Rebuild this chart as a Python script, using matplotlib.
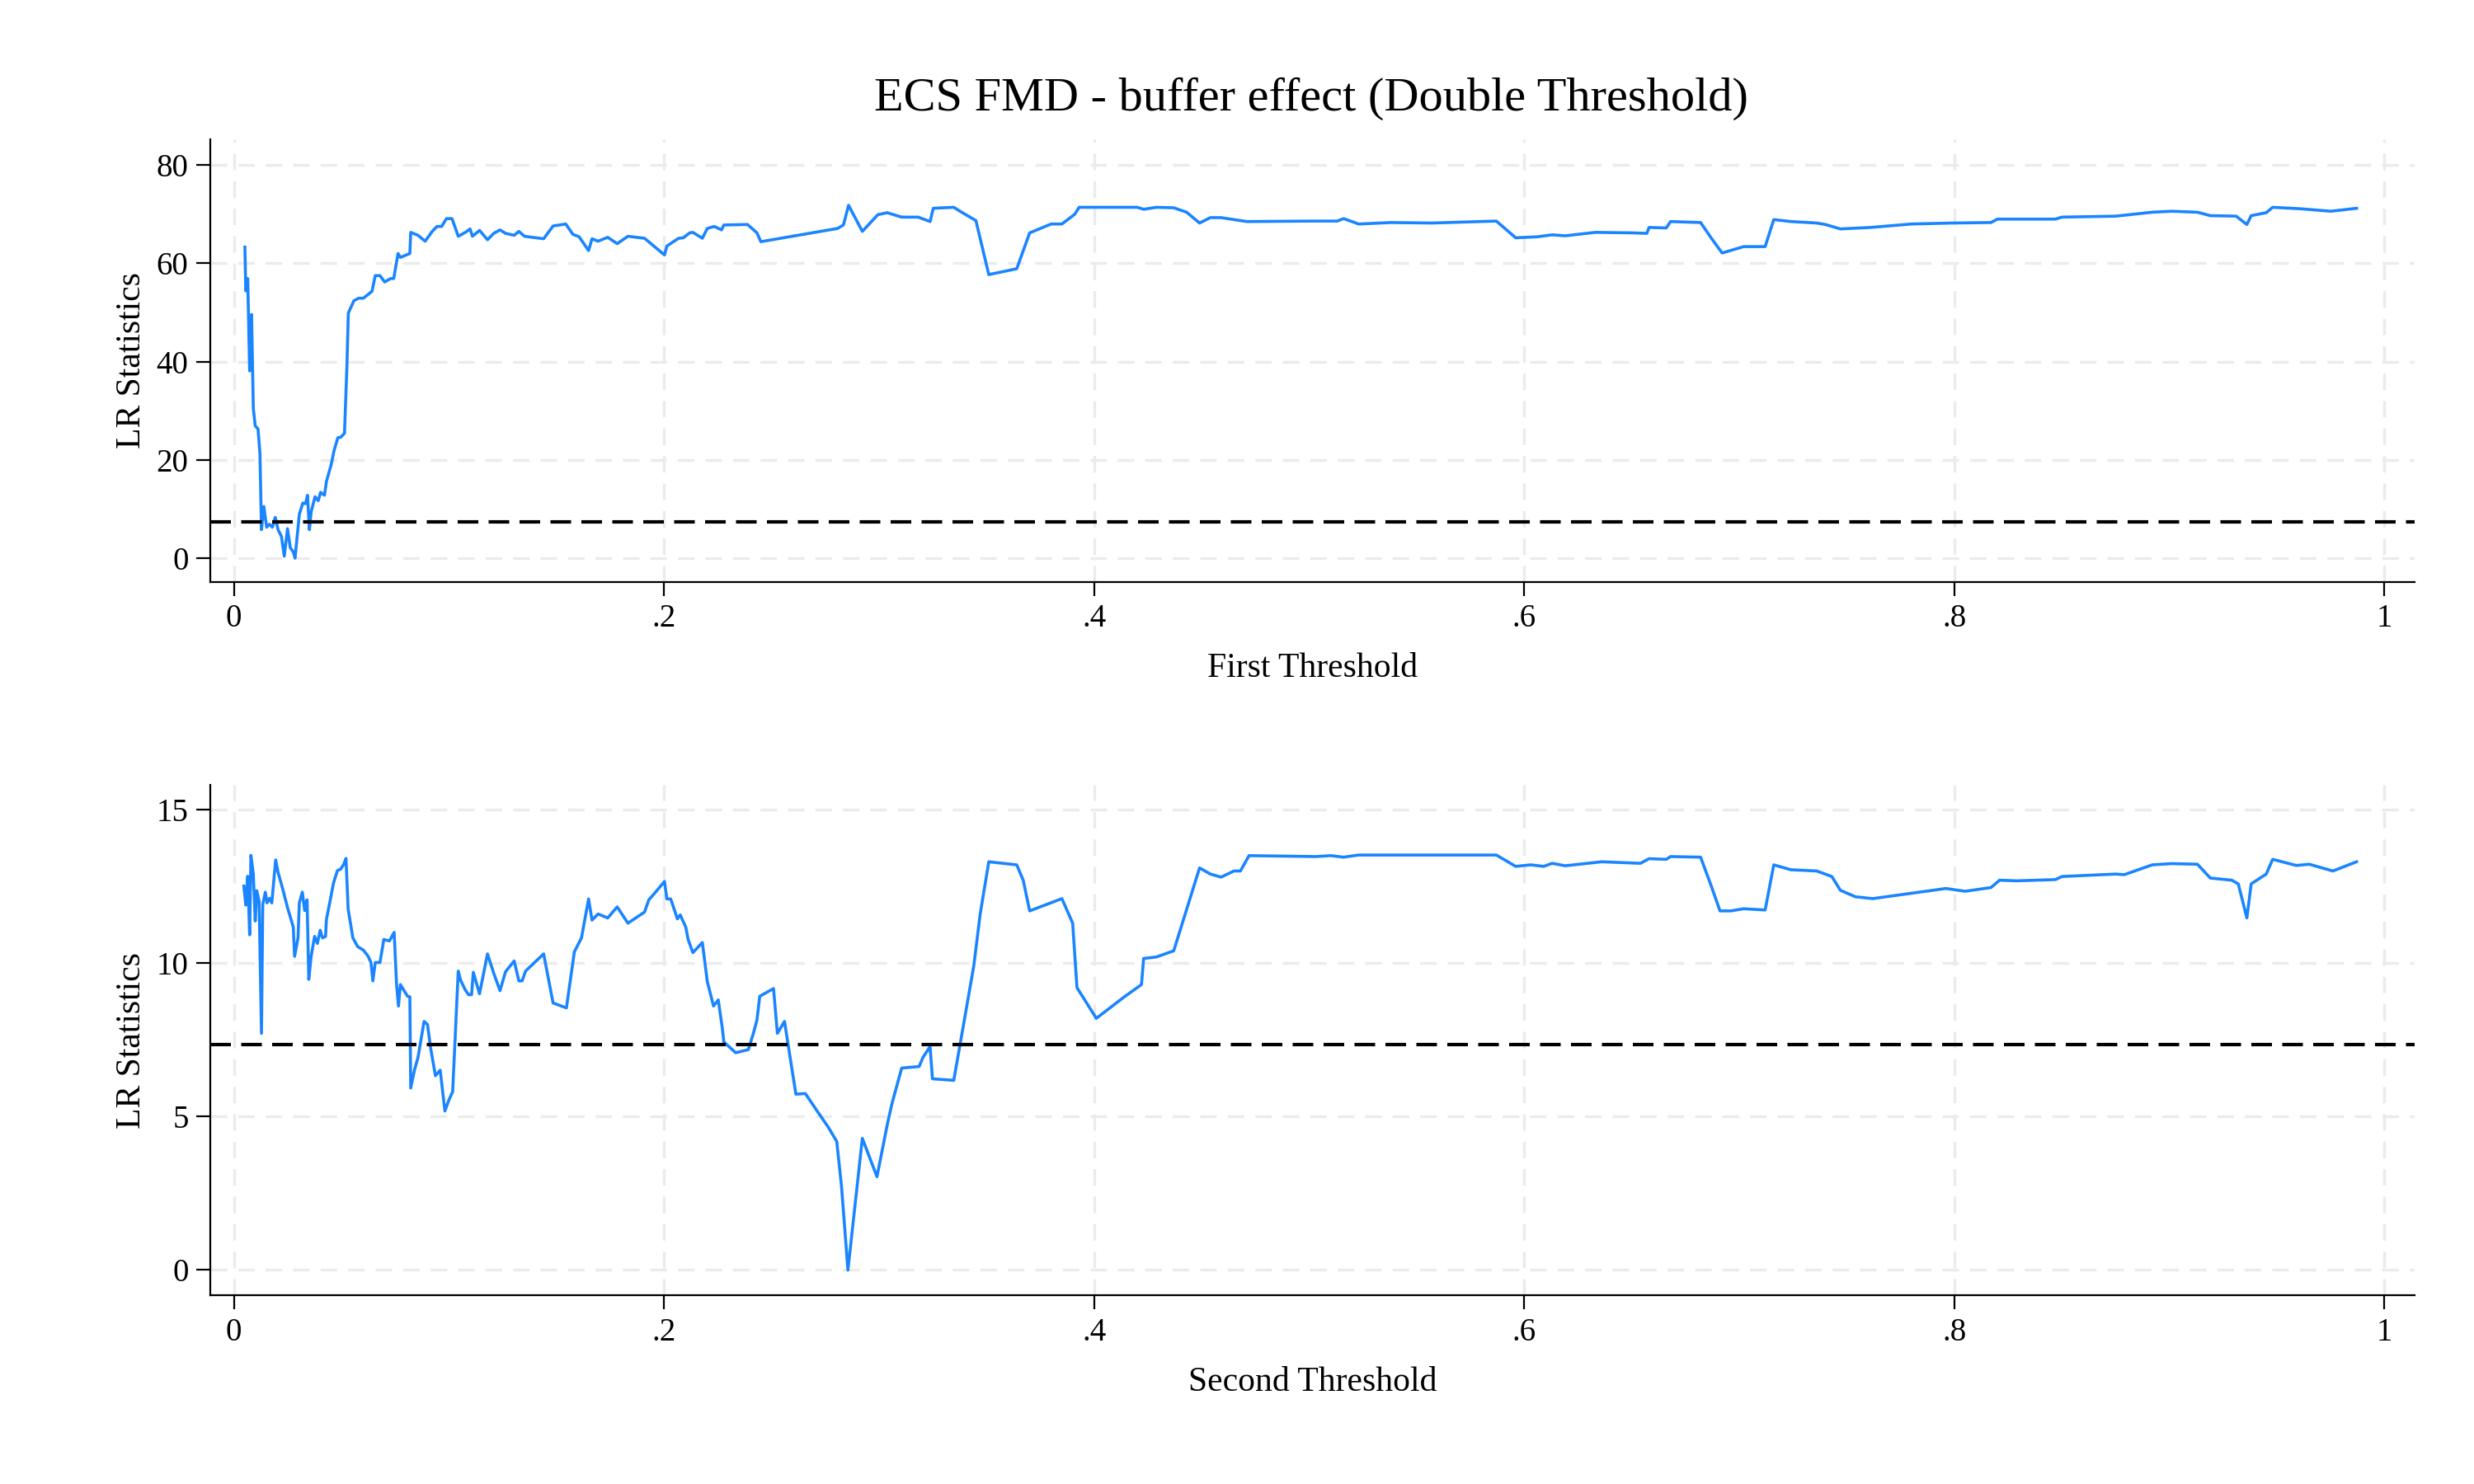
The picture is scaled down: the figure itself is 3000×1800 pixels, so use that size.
import numpy as np
import matplotlib.pyplot as plt

plt.rcParams['font.family'] = ['Liberation Serif', 'DejaVu Serif']

# first threshold LR statistics
x1 = [.0051, .0055, .0064, .0073, .0082, .009, .0099, .0112, .0121, .0128, .0139, .0152, .0165,
      .0179, .0192, .0205, .0221, .0234, .0249, .0262, .0276, .0284, .0304, .032, .0333, .0342,
      .0351, .0359, .0377, .0392, .0403, .0421, .043, .0452, .0465, .0483, .0496, .0514, .0525,
      .0532, .0558, .058, .0602, .0642, .0657, .0679, .0701, .0728, .0743, .0763, .0774, .0818,
      .0822, .0856, .0889, .0922, .0944, .0966, .0988, .1014, .1043, .1076, .1098, .1109, .1142,
      .1179, .1208, .1237, .1263, .1303, .1325, .1351, .144, .1484, .1543, .1576, .1605, .1649,
      .1665, .1693, .1738, .1782, .1832, .1909, .2002, .2013, .204, .2068, .209, .2119, .2134,
      .2178, .2201, .2234, .2267, .2278, .2388, .2432, .245, .2807, .2834, .2858, .2922, .2994,
      .3038, .3105, .3182, .3237, .3252, .3347, .3376, .345, .351, .364, .370, .380, .385, .391,
      .393, .420, .423, .429, .437, .443, .449, .454, .459, .471, .501, .513, .516, .523, .538,
      .557, .587, .596, .606, .613, .619, .633, .650, .657, .658, .666, .668, .682, .687, .692,
      .702, .712, .716, .724, .736, .740, .747, .761, .780, .799, .817, .820, .847, .850, .875,
      .892, .901, .913, .919, .931, .936, .938, .945, .948, .961, .975, .987]
lr1 = [63.3, 54.4, 56.9, 38.1, 49.6, 30.5, 26.9, 26.3, 21.2, 5.8, 10.5, 6.3, 6.9, 6.3, 8.3, 5.8,
       4.4, 0.4, 6.0, 2.1, 1.3, 0, 8.9, 11.2, 11.1, 12.8, 5.8, 9.4, 12.5, 11.7, 13.4, 12.8, 15.6,
       19, 21.8, 24.5, 24.6, 25.4, 38.7, 49.9, 52.4, 52.9, 52.9, 54.3, 57.5, 57.5, 56.2, 56.9,
       56.9, 62, 61.2, 62, 66.3, 65.7, 64.5, 66.5, 67.5, 67.5, 69.1, 69.1, 65.5, 66.3, 67, 65.5,
       66.7, 64.8, 66.1, 66.8, 66.1, 65.7, 66.5, 65.5, 65, 67.6, 68, 65.9, 65.4, 62.6, 65, 64.5,
       65.3, 64, 65.5, 65.1, 61.7, 63.5, 64.3, 65.1, 65.2, 66.2, 66.3, 65.1, 67.1, 67.5, 66.8,
       67.8, 67.9, 66.2, 64.4, 67.1, 67.8, 71.8, 66.5, 69.9, 70.3, 69.4, 69.4, 68.5, 71.2, 71.4,
       70.6, 68.7, 57.7, 58.9, 66.2, 68, 68, 70, 71.4, 71.4, 71, 71.4, 71.3, 70.4, 68.2, 69.3,
       69.3, 68.5, 68.6, 68.6, 69.1, 68, 68.3, 68.2, 68.6, 65.2, 65.4, 65.8, 65.6, 66.3, 66.2,
       66.1, 67.3, 67.2, 68.5, 68.3, 65.1, 62.1, 63.4, 63.4, 68.9, 68.5, 68.2, 67.9, 67, 67.3,
       68, 68.2, 68.3, 69, 69, 69.4, 69.6, 70.4, 70.6, 70.4, 69.7, 69.6, 67.9, 69.7, 70.3, 71.4,
       71.1, 70.6, 71.2]

# second threshold LR statistics
x2 = [.0046, .0055, .0064, .0073, .0079, .009, .0099, .0106, .0117, .0128, .0134, .0146, .0154,
      .0165, .0176, .0194, .0205, .0227, .0249, .0276, .0282, .0298, .0304, .0318, .0329, .034,
      .0348, .0359, .0375, .0388, .0401, .0412, .0426, .043, .0448, .0463, .0481, .0496, .051,
      .0521, .0531, .0553, .0575, .0602, .0624, .0637, .0646, .0657, .0679, .0697, .0723, .0745,
      .0756, .0765, .0774, .0794, .0807, .0818, .0822, .084, .0856, .0884, .09, .0915, .0937,
      .0959, .0981, .0999, .1017, .1043, .1054, .1076, .1091, .1105, .1113, .1142, .1179, .1208,
      .1237, .1263, .1303, .1325, .134, .1356, .144, .1484, .1546, .1583, .1616, .1649, .1665,
      .1693, .1738, .1782, .1832, .1909, .1929, .1958, .2002, .2013, .2031, .2062, .2075, .2101,
      .2112, .2134, .2178, .2201, .223, .2252, .2271, .2278, .2333, .2392, .2417, .2432, .2445,
      .2509, .2527, .256, .2586, .2613, .2657, .2707, .2763, .2803, .2825, .2855, .2922, .299,
      .3038, .306, .3105, .3186, .3204, .3237, .3248, .3347, .3376, .344, .347, .351, .364, .367,
      .370, .385, .390, .392, .401, .414, .422, .423, .429, .437, .449, .454, .459, .465, .468,
      .472, .503, .510, .516, .523, .587, .596, .603, .609, .613, .619, .636, .654, .658, .666,
      .668, .682, .687, .691, .696, .702, .712, .716, .724, .736, .743, .747, .754, .762, .796,
      .805, .817, .821, .829, .847, .850, .875, .879, .892, .901, .913, .919, .929, .932, .936,
      .938, .945, .948, .959, .965, .976, .987]
lr2 = [12.51, 11.89, 12.83, 10.92, 13.51, 12.91, 11.37, 12.36, 12.01, 7.71, 11.91, 12.31, 11.96,
       12.11, 11.96, 13.36, 12.96, 12.41, 11.81, 11.17, 10.22, 10.82, 11.96, 12.31, 11.71, 12.06,
       9.47, 10.22, 10.87, 10.64, 11.07, 10.82, 10.87, 11.42, 12.06, 12.61, 13.01, 13.06, 13.21,
       13.41, 11.76, 10.82, 10.54, 10.42, 10.22, 10.02, 9.42, 10.02, 10.02, 10.77, 10.72, 11,
       9.32, 8.6, 9.3, 9.07, 8.92, 8.9, 5.93, 6.53, 6.93, 8.1, 8.0, 7.21, 6.33, 6.51, 5.18, 5.53,
       5.81, 9.74, 9.44, 9.12, 8.97, 8.97, 9.7, 9, 10.3, 9.67, 9.1, 9.72, 10.07, 9.42, 9.42, 9.74,
       10.3, 8.7, 8.54, 10.37, 10.82, 12.09, 11.4, 11.6, 11.47, 11.83, 11.3, 11.66, 12.06, 12.29,
       12.66, 12.09, 12.09, 11.44, 11.57, 11.17, 10.77, 10.34, 10.67, 9.4, 8.6, 8.8, 7.88, 7.43,
       7.08, 7.18, 7.75, 8.15, 8.92, 9.17, 7.71, 8.1, 6.93, 5.73, 5.75, 5.23, 4.66, 4.19, 2.74, 0,
       4.29, 3.04, 4.74, 5.43, 6.58, 6.63, 6.93, 7.28, 6.23, 6.18, 7.33, 9.9, 11.6, 13.3, 13.2,
       12.7, 11.7, 12.1, 11.3, 9.2, 8.2, 8.9, 9.3, 10.15, 10.2, 10.4, 13.1, 12.9, 12.8, 13.0, 13.0,
       13.5, 13.47, 13.5, 13.45, 13.52, 13.52, 13.15, 13.2, 13.15, 13.25, 13.17, 13.3, 13.25,
       13.4, 13.38, 13.47, 13.45, 12.5, 11.7, 11.7, 11.77, 11.73, 13.2, 13.04, 13.0, 12.82, 12.37,
       12.16, 12.1, 12.43, 12.34, 12.46, 12.7, 12.68, 12.72, 12.82, 12.9, 12.88, 13.2, 13.24,
       13.22, 12.77, 12.7, 12.58, 11.47, 12.58, 12.9, 13.38, 13.18, 13.22, 13.0, 13.3]

crit = 7.35
line_color = '#1a85ff'

fig = plt.figure(figsize=(15, 9), dpi=200)
ax1 = fig.add_axes([0.085, 0.608, 0.891, 0.298])
ax2 = fig.add_axes([0.085, 0.127, 0.891, 0.344])

panels = [(ax1, x1, lr1, [0, 20, 40, 60, 80], (-4.8, 85.2), 'First Threshold'),
          (ax2, x2, lr2, [0, 5, 10, 15], (-0.83, 15.8), 'Second Threshold')]

for ax, x, y, yt, ylim, xlabel in panels:
    ax.plot(x, y, color=line_color, lw=1.3)
    ax.axhline(crit, color='black', lw=1.5, ls=(0, (6, 3)))
    ax.set_xlim(-0.011, 1.014)
    ax.set_ylim(*ylim)
    ax.set_xticks([0, .2, .4, .6, .8, 1])
    ax.set_xticklabels(['0', '.2', '.4', '.6', '.8', '1'])
    ax.set_yticks(yt)
    ax.grid(True, color='#ebebeb', ls=(0, (6, 4)), lw=1.2)
    ax.set_axisbelow(True)
    for s in ['top', 'right']:
        ax.spines[s].set_visible(False)
    ax.tick_params(labelsize=14, length=6, direction='out')
    ax.set_xlabel(xlabel, fontsize=15, labelpad=8)
    ax.set_ylabel('LR Statistics', fontsize=15)

fig.suptitle('ECS FMD - buffer effect (Double Threshold)', fontsize=21, x=0.53, y=0.948)
fig.savefig('out.png', dpi=200, facecolor='white')
